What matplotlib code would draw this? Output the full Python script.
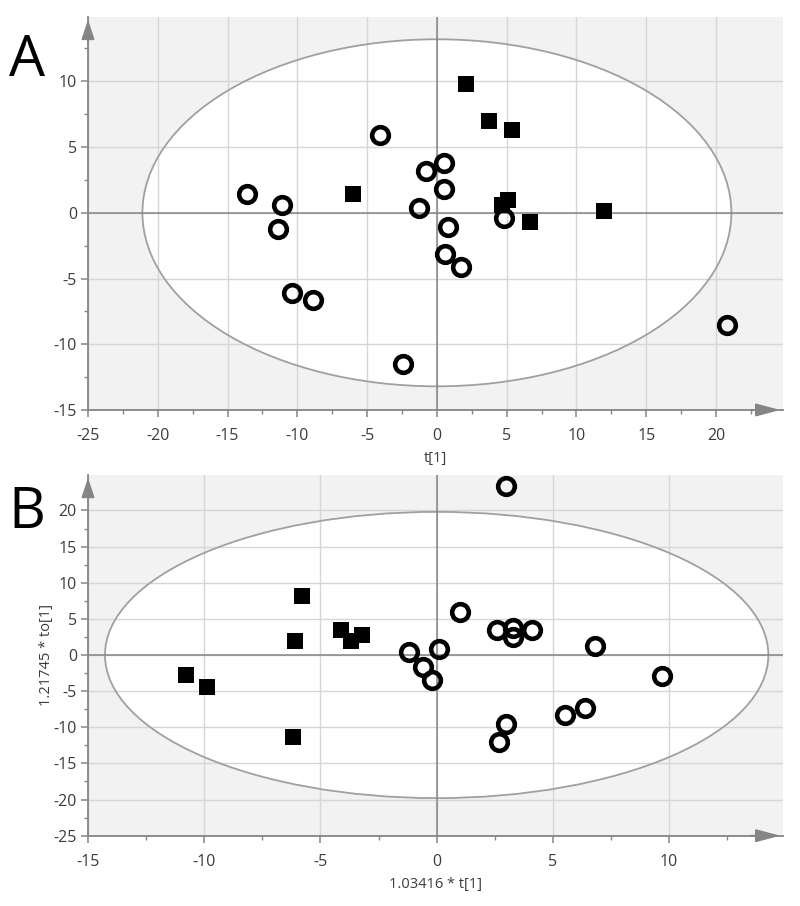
import matplotlib
matplotlib.use("Agg")
from matplotlib import pyplot as plt
from matplotlib.patches import Ellipse
from matplotlib.ticker import MultipleLocator
import numpy as np

# panel A: t[1] vs t[1] scores
a_sq_x = [2.1, 3.7, 5.4, -6.0, 5.1, 4.7, 6.7, 12.0]
a_sq_y = [9.8, 7.0, 6.3, 1.4, 1.0, 0.6, -0.7, 0.1]
a_ci_x = [-13.6, -11.1, -11.4, -10.4, -8.9, -4.1, -2.4, -0.8, 0.5, 0.5, -1.3, 0.8, 0.6, 1.7, 4.8, 20.8]
a_ci_y = [1.4, 0.6, -1.2, -6.1, -6.6, 5.9, -11.5, 3.2, 3.8, 1.8, 0.4, -1.1, -3.1, -4.1, -0.4, -8.5]
a_ell = (21.1, 13.2)

# panel B: 1.03416*t[1] vs 1.21745*to[1]
b_sq_x = [-5.8, -6.1, -4.1, -3.7, -3.2, -10.8, -9.9, -6.2]
b_sq_y = [8.2, 2.0, 3.4, 2.0, 2.8, -2.7, -4.4, -11.4]
b_ci_x = [3.0, 1.0, 2.6, 3.3, 3.3, 4.1, 6.8, 0.1, -1.2, -0.6, -0.2, 9.7, 5.5, 6.4, 3.0, 2.7]
b_ci_y = [23.4, 6.0, 3.4, 3.7, 2.5, 3.4, 1.2, 0.8, 0.4, -1.6, -3.4, -2.9, -8.3, -7.3, -9.5, -12.1]
b_ell = (14.27, 19.8)

plt.rcParams['font.family'] = ['Open Sans', 'DejaVu Sans']
plt.rcParams['axes.unicode_minus'] = False

AX_COL = '#858585'
TXT_COL = '#3c3c3c'


def draw_panel(ax, sx, sy, cx, cy, ell, xlim, ylim, xlabel, ylabel):
	ax.set_facecolor('#f2f2f2')
	ax.add_patch(Ellipse((0, 0), 2 * ell[0], 2 * ell[1], facecolor='white', edgecolor='none', zorder=0.2))
	ax.add_patch(Ellipse((0, 0), 2 * ell[0], 2 * ell[1], facecolor='none', edgecolor='#a0a0a0', lw=1.3, zorder=2))
	ax.set_xlim(*xlim)
	ax.set_ylim(*ylim)
	ax.xaxis.set_major_locator(MultipleLocator(5))
	ax.yaxis.set_major_locator(MultipleLocator(5))
	ax.xaxis.set_minor_locator(MultipleLocator(2.5))
	ax.yaxis.set_minor_locator(MultipleLocator(2.5))
	ax.set_axisbelow(True)
	ax.grid(True, which='major', color='#d6d6d6', lw=1.0, zorder=0.5)
	ax.axhline(0, color=AX_COL, lw=1.1, zorder=2.5)
	ax.axvline(0, color=AX_COL, lw=1.1, zorder=2.5)
	for s in ['top', 'right']:
		ax.spines[s].set_visible(False)
	for s in ['left', 'bottom']:
		ax.spines[s].set_color(AX_COL)
		ax.spines[s].set_linewidth(1.3)
	ax.tick_params(which='major', direction='out', length=5, width=1.1, color=AX_COL,
		labelsize=11.5, labelcolor=TXT_COL)
	ax.tick_params(axis='x', which='major', pad=8)
	ax.tick_params(axis='y', which='major', pad=3)
	ax.tick_params(which='minor', direction='out', length=3, width=1.0, color=AX_COL)
	# arrow heads on the axes
	ax.annotate('', xy=(0, 1.0), xytext=(0, 0.93), xycoords='axes fraction',
		arrowprops=dict(arrowstyle='-|>,head_length=1.2,head_width=0.4', color=AX_COL, lw=1.3))
	ax.annotate('', xy=(1.0, 0), xytext=(0.95, 0), xycoords='axes fraction',
		arrowprops=dict(arrowstyle='-|>,head_length=1.5,head_width=0.4', color=AX_COL, lw=1.3))

	ax.plot(cx, cy, 'o', ms=12, mfc='none', mec='black', mew=3.3, zorder=4, clip_on=False)
	ax.plot(sx, sy, 's', ms=11, mfc='black', mec='black', mew=0, zorder=4, clip_on=False)

	if xlabel:
		ax.set_xlabel(xlabel, fontsize=10.5, color=TXT_COL, labelpad=5)
	if ylabel:
		ax.set_ylabel(ylabel, fontsize=10.5, color=TXT_COL, labelpad=0)


fig = plt.figure(figsize=(8, 9.06), dpi=100)
ax1 = fig.add_axes([0.11, 0.5475, 0.86875, 0.4338])
ax2 = fig.add_axes([0.11, 0.0776, 0.86875, 0.3981])

draw_panel(ax1, a_sq_x, a_sq_y, a_ci_x, a_ci_y, a_ell, (-25, 24.8), (-15, 14.9), 't[1]', None)
draw_panel(ax2, b_sq_x, b_sq_y, b_ci_x, b_ci_y, b_ell, (-15, 14.9), (-25, 24.9), '1.03416 * t[1]', '1.21745 * to[1]')

fig.text(27 / 800, 1 - 61 / 906, 'A', fontsize=41, ha='center', va='center', color='black')
fig.text(27 / 800, 1 - 513 / 906, 'B', fontsize=41, ha='center', va='center', color='black')

plt.savefig('out.png', dpi=100)
plt.close()
